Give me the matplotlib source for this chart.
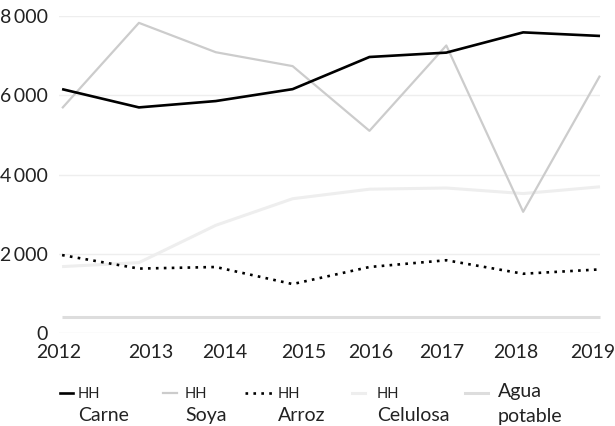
"""Water footprint (HH) by product, 2012-2019."""

import matplotlib
matplotlib.use("Agg")
import matplotlib.pyplot as plt
from matplotlib.lines import Line2D

plt.rcParams["font.family"] = ["Lato", "DejaVu Sans"]

# data
years = ["2012", "2013", "2014", "2015", "2016", "2017", "2018", "2019"]
carne = [6150, 5690, 5850, 6150, 6960, 7070, 7580, 7490]
soya = [5670, 7820, 7080, 6730, 5100, 7250, 3060, 6490]
arroz = [1970, 1630, 1670, 1240, 1670, 1840, 1500, 1610]
celulosa = [1680, 1780, 2720, 3390, 3630, 3660, 3520, 3690]
agua_potable = [420, 420, 420, 420, 420, 420, 420, 420]
y_ticks = [0, 2000, 4000, 6000, 8000]

W, H = 615, 426
TEXT = "#222222"

series = [
    ("Carne", carne, dict(color="black", lw=1.9, ls="-")),
    ("Soya", soya, dict(color="#cccccc", lw=1.6, ls="-")),
    ("Arroz", arroz, dict(color="black", lw=1.9, ls=(0, (1, 2)))),
    ("Celulosa", celulosa, dict(color="#eeeeee", lw=2.2, ls="-")),
    ("Agua potable", agua_potable, dict(color="#dddddd", lw=2.2, ls="-")),
]


def fx(px):
    return px / W


def fy(px):
    return 1 - px / H


fig = plt.figure(figsize=(W / 100, H / 100), dpi=100)
ax = fig.add_axes([fx(59), fy(333.3), fx(600) - fx(59), fy(15.7) - fy(333.3)])

x = list(range(len(years)))
for name, values, style in series[::-1]:
    ax.plot(x, values, clip_on=False, solid_capstyle="butt", **style)

ax.set_xlim(0, len(years) - 1)
ax.set_ylim(0, 8000)
ax.set_yticks(y_ticks)
ax.set_yticklabels([f"{v:,}".replace(",", "\u2009") for v in y_ticks])
ax.yaxis.grid(True, color="#eeeeee", lw=1)
ax.set_axisbelow(True)

# year labels are nudged a little off the data points
label_pos = [-0.04, 1.16, 2.11, 3.14, 4.01, 4.94, 5.91, 6.91]
ax.set_xticks(label_pos)
ax.set_xticklabels(years)

ax.tick_params(axis="both", length=0, labelsize=14, labelcolor=TEXT)
ax.tick_params(axis="x", pad=8)
ax.tick_params(axis="y", pad=8)
for s in ax.spines.values():
    s.set_visible(False)

# legend: short line sample, "HH" unit, then the product name underneath
legend_x = [(60, 73, 78), (163, 177, 185), (245, 272, 278), (352, 365, 377), (465, 488, 498)]
for (name, values, style), (x0, x1, tx) in zip(series, legend_x):
    fig.add_artist(Line2D([fx(x0), fx(x1)], [fy(393), fy(393)],
                          transform=fig.transFigure, **style))
    if name == "Agua potable":
        first, second = name.split()
        fig.text(fx(tx), fy(397), first, fontsize=14, color=TEXT, va="baseline")
        fig.text(fx(tx), fy(422), second, fontsize=14, color=TEXT, va="baseline")
    else:
        fig.text(fx(tx), fy(398), "HH", fontsize=10.5, color=TEXT, va="baseline")
        fig.text(fx(tx), fy(421), name, fontsize=14, color=TEXT, va="baseline")

fig.savefig("out.png", dpi=100)
